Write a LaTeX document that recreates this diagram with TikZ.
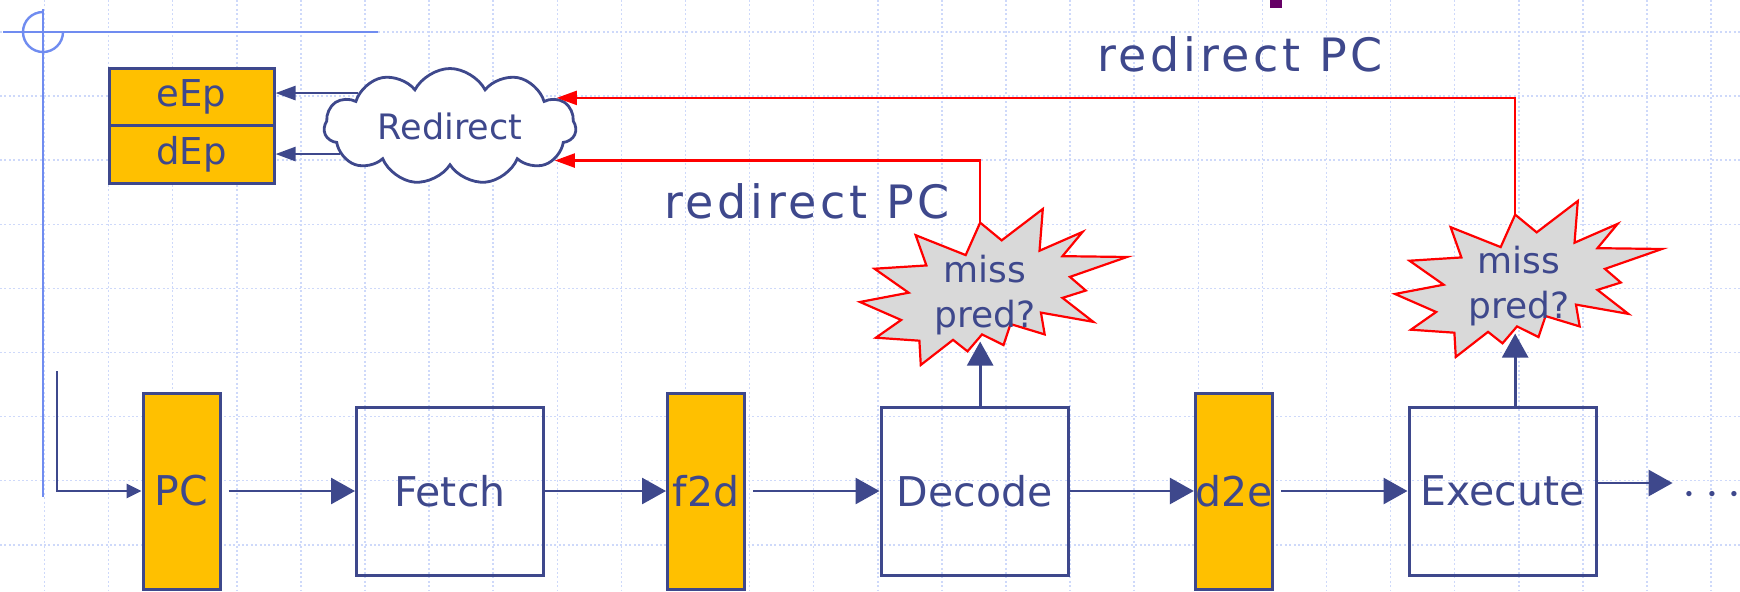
\documentclass[tikz,border=0pt]{standalone}
\usepackage{fontspec}
\setmainfont{DejaVu Sans}
\usepackage{tikz}
\usetikzlibrary{arrows.meta,shapes.symbols}
\definecolor{navy}{RGB}{62,72,140}
\definecolor{regorange}{RGB}{255,192,0}
\definecolor{guideblue}{RGB}{112,140,240}
\definecolor{gridblue}{RGB}{206,217,250}
\definecolor{burstgray}{RGB}{217,217,217}
\definecolor{titlepurple}{RGB}{102,0,102}
\tikzstyle{gridline} = [gridblue, line width=0.75pt, dash pattern=on 1pt off 1.2pt]
\tikzstyle{guide} = [guideblue, line width=1.2pt]
\tikzstyle{stage} = [draw=navy, line width=1.5pt, text=navy, minimum width=93.5pt, minimum height=84pt, font={\fontsize{20.5}{25}\selectfont}]
\tikzstyle{reg} = [stage, fill=regorange, inner sep=0pt, minimum width=38.5pt, minimum height=98pt]
\tikzstyle{ep} = [reg, minimum width=82.5pt, minimum height=28.75pt, font={\fontsize{18.5}{22}\selectfont}]
\tikzstyle{cloudy} = [cloud, cloud puffs=11, cloud puff arc=125, cloud ignores aspect, draw=navy, fill=white, line width=1.4pt, text=navy, inner sep=0pt, minimum width=126pt, minimum height=58pt, font={\fontsize{17.5}{21}\selectfont}]
\tikzstyle{note} = [text=navy, align=center, inner sep=2pt, font={\fontsize{18}{22.5}\selectfont}]
\tikzstyle{pclabel} = [text=navy, anchor=base, inner sep=0pt, font={\fontsize{23}{28}\selectfont\addfontfeature{LetterSpace=8}}]
\tikzstyle{moredots} = [text=navy, inner sep=0pt, font={\fontsize{25}{30}\selectfont}]
\tikzstyle{burst} = [draw=red, line width=1.1pt, fill=burstgray, line join=miter]
\tikzstyle{flow} = [draw=navy, line width=1.4pt, -{Triangle[length=12pt,width=13pt]}]
\tikzstyle{inflow} = [draw=navy, line width=1.4pt, -{Triangle[length=7.5pt,width=7pt]}]
\tikzstyle{epflow} = [draw=navy, line width=1.3pt, -{Triangle[length=10pt,width=7pt]}]
\tikzstyle{redflow} = [draw=red, line width=1.1pt, -{Triangle[length=10pt,width=7pt]}]

% explosion outline: #1,#2 = top left corner, #3 = top point, #4 = point on lower edge
\newcommand{\missburst}[4]{%
  \draw[burst, shift={(#1,#2)}, x=0.618pt, y=-0.361pt]
    (114.62,43.42) -- (147.90,0) -- (145.25,57.77) -- (180.07,31.72) -- (163.80,65.32)
    -- (216.00,66.45) -- (169.85,94.02) -- (182.70,112.90) -- (163.80,123.10)
    -- (188.77,156.32) -- (146.40,143.50) -- (149.42,173.70) -- (121.80,159.35)
    -- (116.12,188.42) -- (98.72,173.70) -- coordinate[pos=0.128] (#4) (87.00,197.12)
    -- (75.27,181.25) -- (49.17,216.00) -- (48.05,182.40) -- (12.85,178.25)
    -- (33.30,153.70) -- (0,128.77) -- (39.35,115.92) -- (11.72,82.70)
    -- (53.72,78.17) -- (45.02,36.25) -- (85.50,63.82) -- (97.22,18.87) coordinate (#3)
    -- cycle;}

\begin{document}
\begin{tikzpicture}[x=0.5pt,y=-0.5pt]
    \useasboundingbox (0,0) rectangle (1740,591);
    % slide background
    \foreach \k in {0,...,8}
      \draw[gridline] (0,32+64.1*\k) -- (1740,32+64.1*\k);
    \foreach \k in {0,...,26}
      \draw[gridline] (44.5+64.1*\k,0) -- (44.5+64.1*\k,591);
    \draw[guide] (3,32) -- (378,32);
    \draw[guide] (43,9) -- (43,497);
    \draw[guide] (43,12) arc[start angle=270, end angle=0, radius=20];
    \fill[titlepurple] (1270,0) rectangle (1282,8);

    % pipeline
    \node[reg](pc) at (181.5,491){PC};
    \node[stage](fetch) at (450,491){Fetch};
    \node[reg](f2d) at (706,491){f2d};
    \node[stage](decode) at (974.5,491){Decode};
    \node[reg](d2e) at (1234,491){d2e};
    \node[stage](execute) at (1502.5,491){Execute};
    \node[moredots](more) at (1712,495){$\cdots$};
    \coordinate (pcin) at (57,371);
    \draw[inflow](pcin) |- (pc.west);
    \draw[flow,shorten <=3.5pt](pc)--(fetch);
    \draw[flow](fetch)--(f2d);
    \draw[flow,shorten <=3.5pt](f2d)--(decode);
    \draw[flow](decode)--(d2e);
    \draw[flow,shorten <=3.5pt](d2e)--(execute);
    \draw[flow,shorten >=5pt]([yshift=4pt]execute.east)--([yshift=4pt]execute.east -| more.west);

    % misprediction checks
    \missburst{860}{209}{dtop}{dbot}
    \missburst{1395}{201}{xtop}{xbot}
    \node[note](missd) at (985,295){miss\\pred?};
    \node[note](missx) at (1519,286){miss\\pred?};
    \draw[flow,shorten >=2.5pt](decode.north -| dbot)--(dbot);
    \draw[flow,shorten >=2.5pt](execute.north -| xbot)--(xbot);

    % redirect
    \node[ep](eep) at (191.5,97){eEp};
    \node[ep](dep) at (191.5,154.5){dEp};
    \node[cloudy](redir) at (450,126.5){Redirect};
    \draw[epflow](redir.160)--(redir.160 -| eep.east);
    \draw[epflow](redir.-166)--(redir.-166 -| dep.east);
    \draw[redflow](dtop) |- (redir.-18);
    \draw[redflow](xtop) |- (redir.15);
    \node[pclabel](lbld) at (807,218){redirect PC};
    \node[pclabel](lblx) at (1240,71){redirect PC};
\end{tikzpicture}
\end{document}
